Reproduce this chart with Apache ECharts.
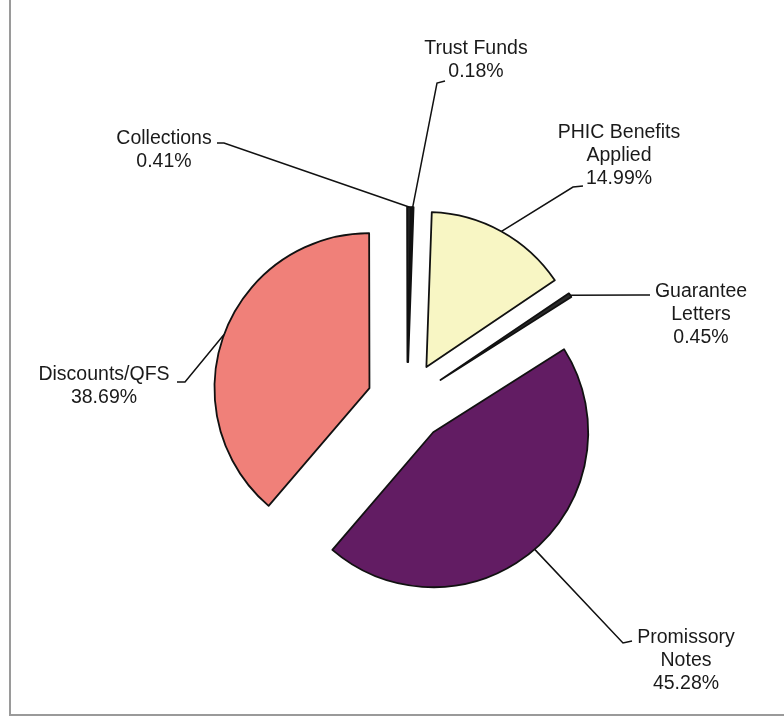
<!DOCTYPE html>
<html>
<head>
<meta charset="utf-8">
<script src="https://cdn.jsdelivr.net/npm/echarts@6/dist/echarts.min.js"></script>
<style>
  html, body { margin: 0; padding: 0; background: #ffffff; }
  #frame { position: absolute; left: 9px; top: -4px; width: 790px; height: 718px;
           border-left: 2px solid #9a9a9a; border-bottom: 2px solid #9a9a9a; }
  #chart { position: absolute; left: 0; top: 0; width: 784px; height: 720px; }
</style>
</head>
<body>
<div id="frame"></div>
<div id="chart"></div>
<script>
// ---- data ----
const categories = ['PHIC Benefits\nApplied', 'Guarantee\nLetters', 'Promissory\nNotes',
                    'Discounts/QFS', 'Collections', 'Trust Funds'];
const values = [14.99, 0.45, 45.28, 38.69, 0.41, 0.18];
const colors = ['#f8f6c4', '#2a2a2a', '#621c63', '#f08079', '#222222', '#222222'];

// ---- label placement (final positions of label centres and leader ends) ----
const labelPlace = [
  { x: 619, y: 156, mx: 573, my: 187, ex: 583, ey: 186 },
  { x: 701, y: 315, mx: 640, my: 295, ex: 650, ey: 295 },
  { x: 686, y: 661, mx: 623, my: 643, ex: 632, ey: 641 },
  { x: 104, y: 386, mx: 185, my: 382, ex: 177, ey: 382 },
  { x: 164, y: 150, mx: 224, my: 143, ex: 217, ey: 143 },
  { x: 476, y: 60,  mx: 437, my: 83,  ex: 445, ey: 81 }
];
const explode = 40;

const chart = echarts.init(document.getElementById('chart'), null, { renderer: 'canvas' });

const seriesData = categories.map((c, i) => ({
  name: c, value: values[i], selected: true,
  itemStyle: { color: colors[i] }
}));

chart.setOption({
  animation: false,
  backgroundColor: 'transparent',
  series: [{
    type: 'pie',
    center: [407, 402],
    radius: 155,
    startAngle: 88,
    clockwise: true,
    selectedMode: 'multiple',
    selectedOffset: explode,
    avoidLabelOverlap: false,
    minShowLabelAngle: 0,
    emphasis: { disabled: true },
    itemStyle: { borderColor: '#111', borderWidth: 1.8 },
    label: {
      show: true,
      position: 'outside',
      color: '#1a1a1a',
      fontFamily: 'Liberation Sans, Arial, sans-serif',
      fontSize: 19.5,
      lineHeight: 23,
      formatter: p => p.name + '\n' + p.value.toFixed(2) + '%'
    },
    labelLine: { show: true, length: 10, length2: 5, smooth: false,
                 lineStyle: { color: '#111', width: 1.5 } },
    labelLayout: function (params) {
      const lp = labelPlace[params.dataIndex];
      const pts = params.labelLinePoints;
      let ox = 0, oy = 0;
      if (pts && pts.length > 1) {
        const vx = pts[1][0] - pts[0][0], vy = pts[1][1] - pts[0][1];
        const len = Math.sqrt(vx * vx + vy * vy) || 1;
        ox = vx / len * explode; oy = vy / len * explode;
      }
      const r = params.labelRect;
      const ax = params.align === 'left' ? r.x
               : params.align === 'right' ? r.x + r.width : r.x + r.width / 2;
      const ay = params.verticalAlign === 'top' ? r.y
               : params.verticalAlign === 'bottom' ? r.y + r.height : r.y + r.height / 2;
      const out = {
        dx: lp.x - (ax + ox), dy: lp.y - (ay + oy),
        align: 'center', verticalAlign: 'middle'
      };
      if (pts) {
        out.labelLinePoints = [pts[0], [lp.mx - ox, lp.my - oy], [lp.ex - ox, lp.ey - oy]];
      }
      return out;
    },
    data: seriesData
  }]
});
</script>
</body>
</html>
